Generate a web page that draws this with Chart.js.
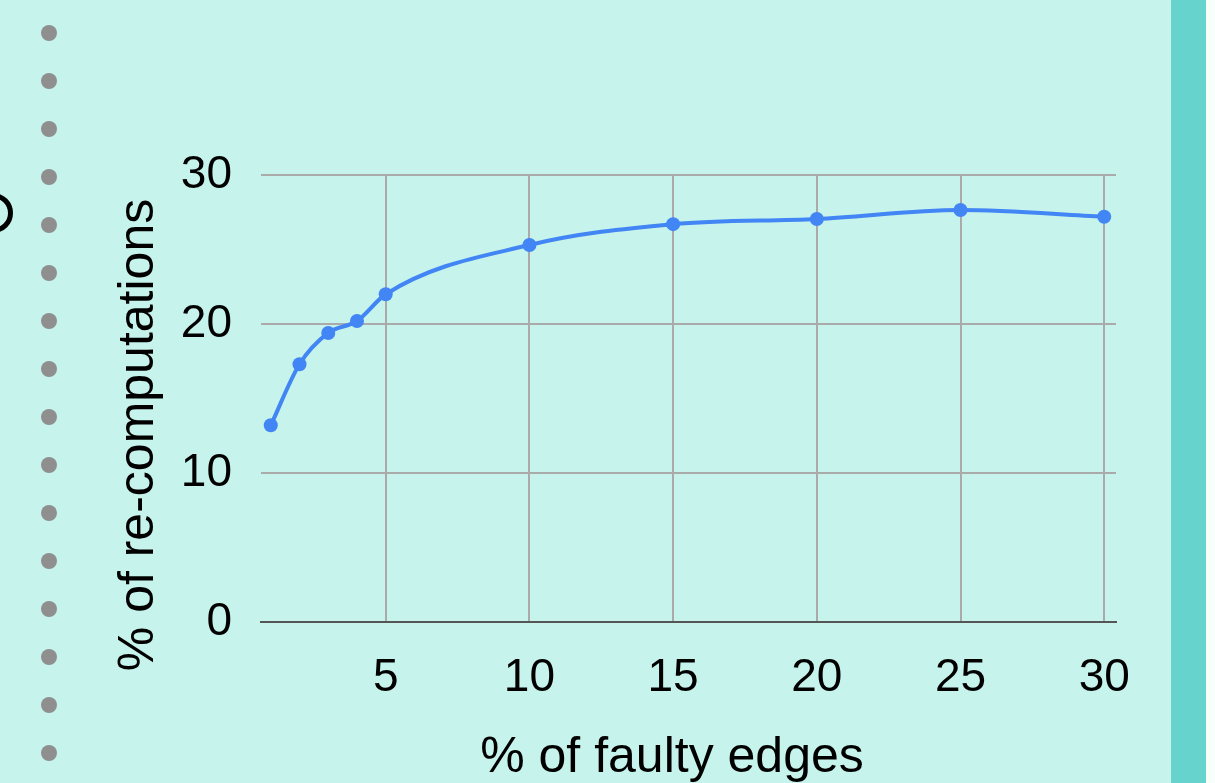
<!DOCTYPE html>
<html>
<head>
<meta charset="utf-8">
<script src="https://cdn.jsdelivr.net/npm/chart.js@4"></script>
<style>
  html, body { margin: 0; padding: 0; }
  body { width: 1215px; height: 783px; background: #c6f3eb; position: relative; overflow: hidden; }
  #chart { position: absolute; left: 0; top: 0; }
  .dot { position: absolute; left: 41px; width: 16px; height: 16px; border-radius: 50%; background: #8f8f8f; }
  .ring { position: absolute; left: -27px; top: 193px; width: 30px; height: 30px; border: 5px solid #000; border-radius: 50%; }
  .strip { position: absolute; top: 0; height: 783px; }
</style>
</head>
<body>
<div class="ring"></div>
<div id="dots"></div>
<div class="strip" style="left:1171px;width:35px;background:#66d3cd;"></div>
<div class="strip" style="left:1206px;width:9px;background:#f6fff9;"></div>
<canvas id="chart" width="1215" height="783"></canvas>
<script>
// data
const faultyEdges = [1, 2, 3, 4, 5, 10, 15, 20, 25, 30];
const recomputations = [13.2, 17.3, 19.4, 20.2, 22.0, 25.3, 26.7, 27.05, 27.65, 27.2];
const xTicks = [5, 10, 15, 20, 25, 30];
const yTicks = [0, 10, 20, 30];
const xTitle = '% of faulty edges';
const yTitle = '% of re-computations';

// left column of dots (slide decoration)
const dots = document.getElementById('dots');
for (let i = 0; i < 16; i++) {
  const d = document.createElement('div');
  d.className = 'dot';
  d.style.top = (25 + i * 48) + 'px';
  dots.appendChild(d);
}

const font = 'Liberation Sans, Arial, sans-serif';

// axis titles are not centred on the plot, so draw them ourselves
const axisTitles = {
  id: 'axisTitles',
  afterDraw(chart) {
    const ctx = chart.ctx;
    ctx.save();
    ctx.fillStyle = '#000';
    ctx.font = '50px ' + font;
    ctx.textAlign = 'center';
    ctx.textBaseline = 'alphabetic';
    ctx.fillText(xTitle, 672, 772);
    ctx.translate(153, 435);
    ctx.rotate(-Math.PI / 2);
    ctx.fillText(yTitle, 0, 0);
    ctx.restore();
  }
};

new Chart(document.getElementById('chart'), {
  type: 'line',
  data: {
    datasets: [{
      data: faultyEdges.map((x, i) => ({ x: x, y: recomputations[i] })),
      borderColor: '#4285f4',
      backgroundColor: '#4285f4',
      borderWidth: 4,
      pointRadius: 7,
      pointBorderWidth: 0,
      pointBackgroundColor: '#4285f4',
      cubicInterpolationMode: 'monotone',
      fill: false
    }]
  },
  options: {
    responsive: false,
    animation: false,
    layout: { padding: { left: 0, top: 175, right: 99, bottom: 0 } },
    plugins: { legend: { display: false }, tooltip: { enabled: false } },
    scales: {
      x: {
        type: 'linear',
        min: 0.66,
        max: 30.41,
        afterBuildTicks: s => { s.ticks = xTicks.map(v => ({ value: v })); },
        afterFit: s => { s.height = 161; },
        grid: { color: '#aaaaaa', lineWidth: 2, drawTicks: false },
        border: { display: true, color: '#555555', width: 2 },
        ticks: { color: '#000', font: { family: font, size: 46 }, padding: 29, maxRotation: 0 }
      },
      y: {
        min: 0,
        max: 30,
        afterBuildTicks: s => { s.ticks = yTicks.map(v => ({ value: v })); },
        afterFit: s => { s.width = 261; },
        grid: { color: '#aaaaaa', lineWidth: 2, drawTicks: false },
        border: { display: false },
        ticks: { color: '#000', font: { family: font, size: 46 }, padding: 29 }
      }
    }
  },
  plugins: [axisTitles]
});
</script>
</body>
</html>
